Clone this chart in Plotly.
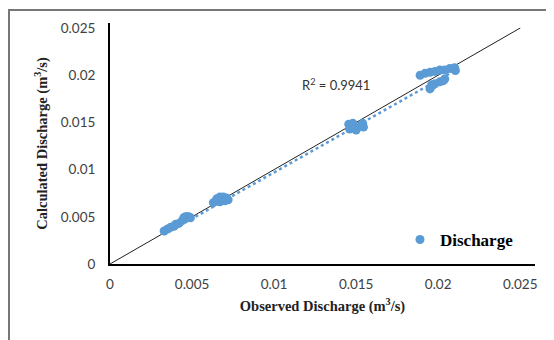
import numpy as np
import plotly.graph_objects as go

# Observed vs calculated discharge (m3/s)
observed = [0.0033, 0.0035, 0.0037, 0.0039, 0.0040, 0.0042, 0.0044, 0.0045, 0.0046, 0.0047, 0.0048, 0.0049,
            0.0063, 0.0065, 0.0067, 0.0069, 0.0071, 0.0072, 0.0070, 0.0067, 0.0066,
            0.01455, 0.0146, 0.0148, 0.0150, 0.0152, 0.0154, 0.01545, 0.0148,
            0.0189, 0.0192, 0.0195, 0.0198, 0.0201, 0.0204, 0.0207, 0.0210, 0.02105,
            0.0195, 0.01965, 0.0198, 0.0201, 0.0203, 0.0204, 0.0196]
calculated = [0.0035, 0.0037, 0.0039, 0.0040, 0.0042, 0.0043, 0.0046, 0.0049, 0.0050, 0.0050, 0.0050, 0.0049,
              0.0065, 0.0069, 0.0071, 0.0071, 0.0070, 0.0068, 0.0067, 0.0066, 0.0067,
              0.0148, 0.0143, 0.0145, 0.0142, 0.0146, 0.0149, 0.0145, 0.0149,
              0.0200, 0.0202, 0.0203, 0.0204, 0.02055, 0.02055, 0.0207, 0.0208, 0.0205,
              0.01855, 0.0189, 0.0191, 0.0193, 0.0194, 0.0196, 0.0190]
one_to_one = [0, 0.025]
# linear trendline as drawn in the chart
trend_slope = 0.98
trend_intercept = -0.0001
tick_vals = [0, 0.005, 0.01, 0.015, 0.02, 0.025]
tick_text = ["0", "0.005", "0.01", "0.015", "0.02", "0.025"]
r2_label = "R<sup>2</sup> = 0.9941"

# page body has an 8px margin, so the figure is 8px smaller than the window
W, H = 546, 332
L, R, T, B = 102, 19, 15, 76
pw, ph = W - L - R, H - T - B

blue = "#5B9BD5"
xs = np.array(observed)
tx = np.array([xs.min(), xs.max()])
ty = trend_slope * tx + trend_intercept

fig = go.Figure()
fig.add_trace(go.Scatter(x=one_to_one, y=one_to_one, mode="lines",
                         line=dict(color="#222222", width=1), showlegend=False))
fig.add_trace(go.Scatter(x=observed, y=calculated, mode="markers", name="<b>Discharge</b>",
                         marker=dict(color=blue, size=9)))
fig.add_trace(go.Scatter(x=tx, y=ty, mode="lines", line=dict(color=blue, width=2.5, dash="dot"),
                         showlegend=False))

tickfont = dict(family="Lato, Carlito, Open Sans, sans-serif", size=13.5, color="#404040")
titlefont = dict(family="Liberation Serif, Times New Roman, serif", size=14.5, color="#222222")

fig.update_layout(
    width=W, height=H,
    margin=dict(l=L, r=R, t=T, b=B, autoexpand=False),
    paper_bgcolor="white", plot_bgcolor="white",
    xaxis=dict(range=[0, 0.0259], tickvals=tick_vals, ticktext=tick_text, showgrid=False,
               zeroline=False, showline=True, linecolor="black", linewidth=2,
               ticks="outside", ticklen=7, tickcolor="rgba(0,0,0,0)", tickfont=tickfont,
               title=dict(text="<b>Observed Discharge (m<sup>3</sup>/s)</b>", font=titlefont, standoff=10)),
    yaxis=dict(range=[0, 0.02553], tickvals=tick_vals, ticktext=tick_text, showgrid=False,
               zeroline=False, showline=True, linecolor="black", linewidth=2,
               ticks="outside", ticklen=10, tickcolor="rgba(0,0,0,0)", tickfont=tickfont,
               title=dict(text="<b>Calculated Discharge (m<sup>3</sup>/s)</b>", font=titlefont, standoff=10)),
    legend=dict(x=(400 - 8 - L) / pw, y=1 - (240 - 8 - T) / ph, xanchor="left", yanchor="middle",
                bgcolor="rgba(0,0,0,0)",
                font=dict(family="Liberation Serif, Times New Roman, serif", size=17, color="black")),
    annotations=[dict(x=0.0116, y=0.0190, xref="x", yref="y", text=r2_label, showarrow=False,
                      xanchor="left", font=dict(family="Lato, Carlito, sans-serif", size=13, color="#333333"))],
    shapes=[
        dict(type="line", xref="paper", yref="paper", x0=(0 - L) / pw, x1=(W - L) / pw,
             y0=1 + (T - 2) / ph, y1=1 + (T - 2) / ph, line=dict(color="#777777", width=2)),
        dict(type="line", xref="paper", yref="paper", x0=(1 - L) / pw, x1=(1 - L) / pw,
             y0=1 + (T - 2) / ph, y1=-(B) / ph, line=dict(color="#777777", width=2)),
    ],
)
fig.write_html("out.html")
